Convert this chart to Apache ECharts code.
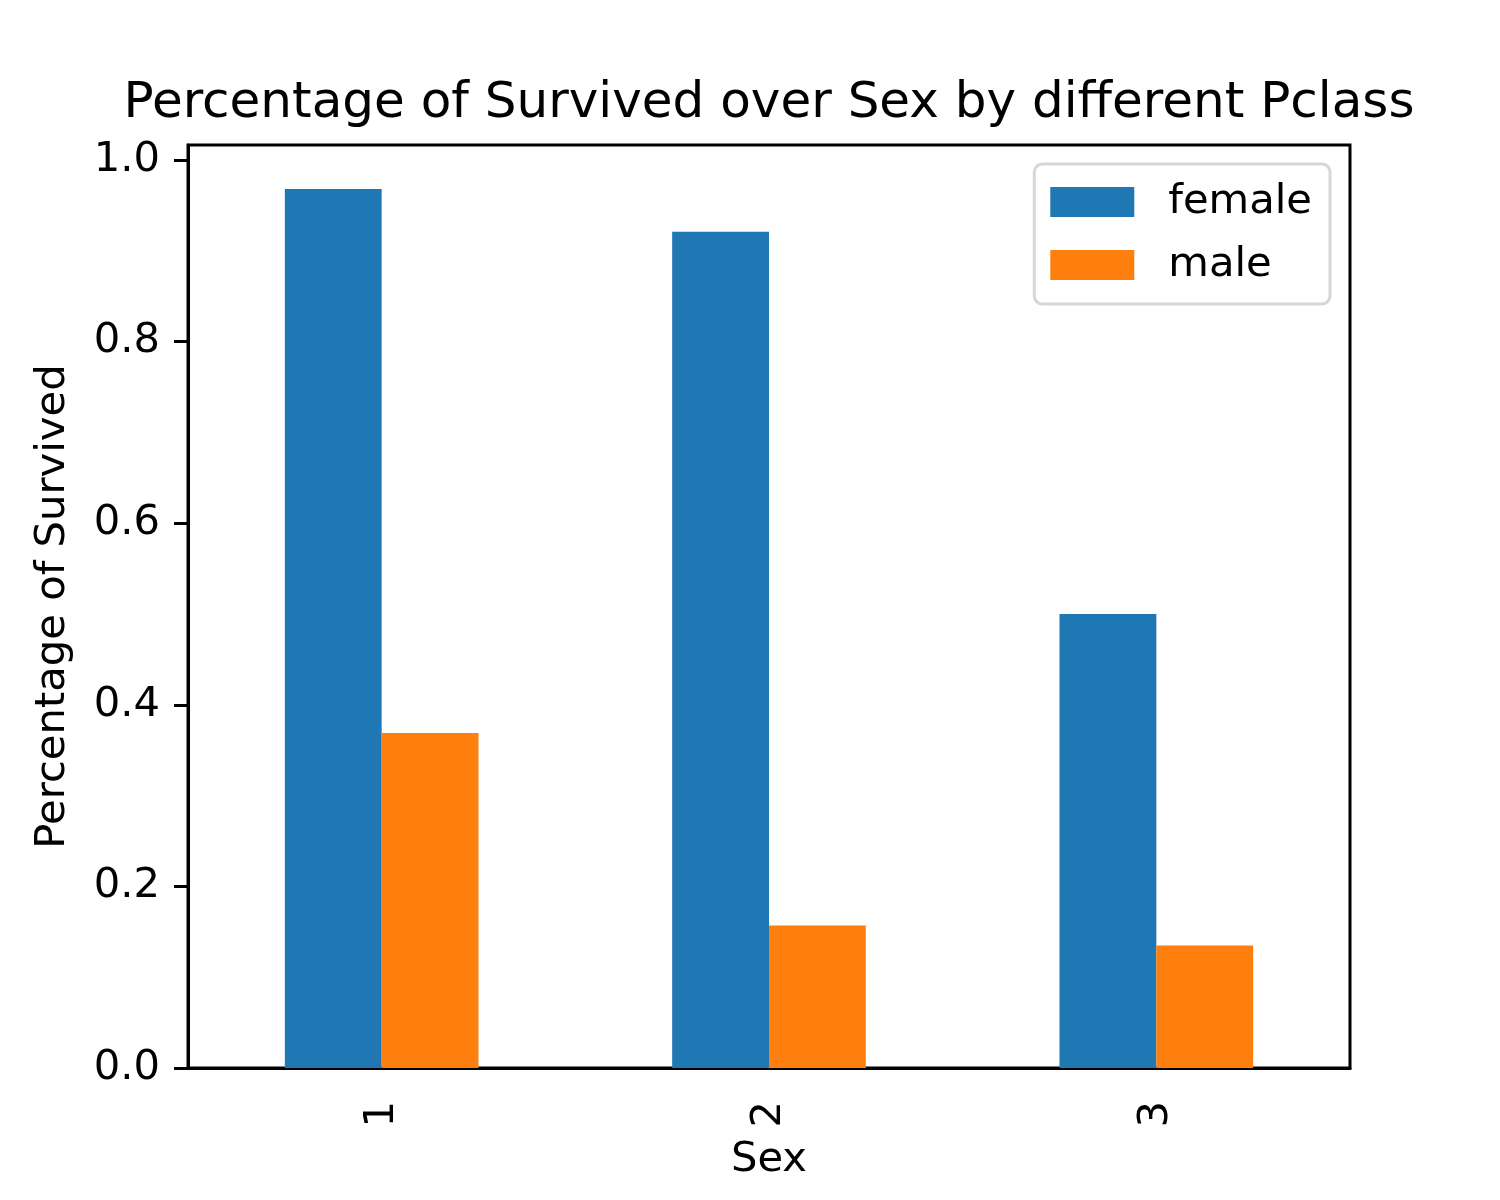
<!DOCTYPE html>
<html>
<head>
<meta charset="utf-8">
<script src="https://cdn.jsdelivr.net/npm/echarts@6/dist/echarts.min.js"></script>
<style>
  html, body { margin: 0; padding: 0; background: #fff; }
  #main { width: 1500px; height: 1200px; }
</style>
</head>
<body>
<div id="main"></div>
<script>
// data
var pclass = ['1', '2', '3'];
var female = [0.968, 0.921, 0.500];
var male = [0.369, 0.157, 0.135];
var y_ticks = [0, 0.2, 0.4, 0.6, 0.8, 1.0];

var FONT = 'DejaVu Sans';

var init_echart = function() {
    var myChart = echarts.init(document.getElementById('main'));
    // matplotlib pads the top by 5%
    var y_max = Math.max.apply(null, female.concat(male)) * 1.05;

    var option = {
        animation: false,
        textStyle: { fontFamily: FONT },
        title: {
            text: 'Percentage of Survived over Sex by different Pclass',
            left: 764,
            textAlign: 'center',
            top: 74,
            textStyle: { fontFamily: FONT, fontSize: 50, fontWeight: 'normal', color: '#000' }
        },
        legend: {
            orient: 'vertical',
            right: 170,
            top: 164,
            padding: [17, 18, 18, 16],
            itemWidth: 84,
            itemHeight: 30,
            itemGap: 21,
            borderColor: '#d6d6d6',
            borderWidth: 3,
            borderRadius: 8,
            backgroundColor: '#fff',
            icon: 'rect',
            textStyle: { fontFamily: FONT, fontSize: 41.7, color: '#000', padding: [0, 0, 0, 29] },
            data: ['female', 'male']
        },
        grid: {
            left: 188, top: 145, width: 1162, height: 923,
            outerBoundsMode: 'none',
            containLabel: false,
            show: true, borderColor: '#000', borderWidth: 3, backgroundColor: 'transparent'
        },
        xAxis: {
            type: 'category',
            data: pclass,
            name: 'Sex',
            nameLocation: 'middle',
            nameGap: 71,
            nameTextStyle: { fontFamily: FONT, fontSize: 41.7, color: '#000' },
            axisLine: { lineStyle: { color: '#000', width: 3 } },
            axisTick: { alignWithLabel: true, length: 14, lineStyle: { color: '#000', width: 3 } },
            axisLabel: { rotate: 90, margin: 33, fontFamily: FONT, fontSize: 41.7, color: '#000' },
            splitLine: { show: false }
        },
        yAxis: {
            type: 'value',
            min: 0,
            max: y_max,
            interval: 0.2,
            name: 'Percentage of Survived',
            nameLocation: 'middle',
            nameGap: 114,
            nameTextStyle: { fontFamily: FONT, fontSize: 41.7, color: '#000' },
            axisLine: { show: true, lineStyle: { color: '#000', width: 3 } },
            axisTick: { show: true, length: 14, customValues: y_ticks, lineStyle: { color: '#000', width: 3 } },
            axisLabel: {
                margin: 28, fontFamily: FONT, fontSize: 41.7, color: '#000',
                customValues: y_ticks,
                formatter: function(v) { return v.toFixed(1); }
            },
            splitLine: { show: false }
        },
        series: [{
            name: 'female',
            type: 'bar',
            data: female,
            barGap: '0%',
            barCategoryGap: '50%',
            itemStyle: { color: '#1f77b4' }
        }, {
            name: 'male',
            type: 'bar',
            data: male,
            itemStyle: { color: '#ff7f0e' }
        }]
    };

    myChart.setOption(option);
}

init_echart();
</script>
</body>
</html>
